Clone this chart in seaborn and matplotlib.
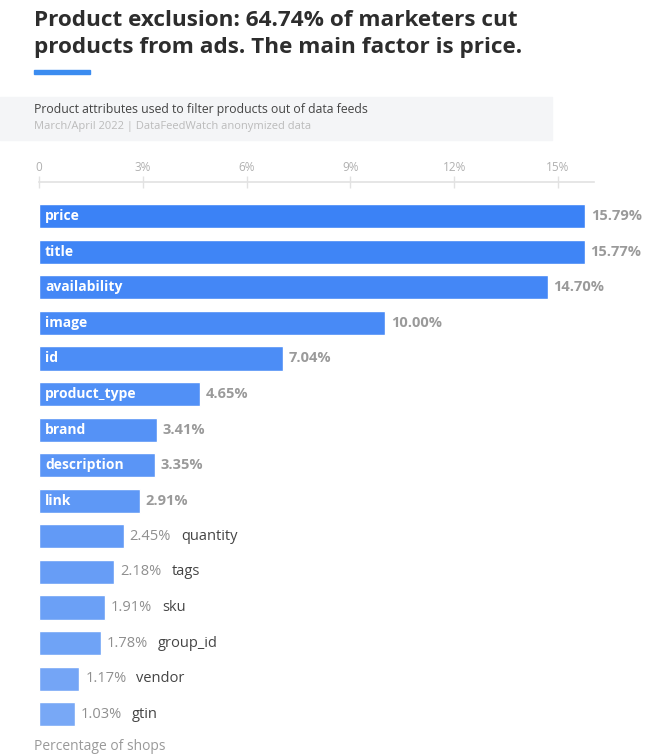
import pandas as pd
import matplotlib.pyplot as plt
import matplotlib.colors as mcolors
import numpy as np
import seaborn as sns

# Datos
attributes = ['price', 'title', 'availability', 'image', 'id', 'product_type', 'brand',
              'description', 'link', 'quantity', 'tags', 'sku', 'group_id', 'vendor', 'gtin']
shares = [15.79, 15.77, 14.70, 10.00, 7.04, 4.65, 3.41, 3.35, 2.91, 2.45, 2.18, 1.91, 1.78, 1.17, 1.03]
ticks = [0, 3, 6, 9, 12, 15]
tick_labels = ['0', '3%', '6%', '9%', '12%', '15%']

df = pd.DataFrame({'attribute': attributes, 'share': shares})

# Degradado de azul oscuro a azul claro
c_top = np.array(mcolors.to_rgb('#3b82f6'))
c_bot = np.array(mcolors.to_rgb('#78a8f6'))
colors = [tuple(c_top + (c_bot - c_top) * i / (len(df) - 1)) for i in range(len(df))]

sns.set_style('white')
plt.rcParams['font.family'] = ['Open Sans', 'DejaVu Sans']

fig = plt.figure(figsize=(6.47, 7.56), dpi=100)
ax = fig.add_axes([39 / 647, 1 - 732 / 756, 555 / 647, (732 - 182) / 756])

sns.barplot(
    data=df,
    x='share',
    y='attribute',
    hue='attribute',
    palette=colors,
    legend=False,
    width=0.68,
    saturation=1,
    ax=ax
)

ax.set_xlim(0, 16.04)
ax.set_ylim(14.5, -0.96)
ax.set_xlabel('')
ax.set_ylabel('')
ax.set_yticks([])

# Eje superior
ax.xaxis.tick_top()
ax.set_xticks(ticks)
ax.set_xticklabels(tick_labels)
ax.tick_params(axis='x', top=True, bottom=False, direction='inout', length=8,
               width=1, color='#e2e2e2', labelcolor='#b0b0b0', labelsize=8.5, pad=2)
for side in ['left', 'right', 'bottom']:
    ax.spines[side].set_visible(False)
ax.spines['top'].set_color('#e2e2e2')
ax.spines['top'].set_linewidth(1.2)

# Etiquetas
for i, row in df.iterrows():
    if row['share'] >= 2.8:
        ax.text(0.17, i, row['attribute'], color='white', fontsize=10, fontweight='bold',
                ha='left', va='center')
        ax.text(row['share'] + 0.17, i, f"{row['share']:.2f}%", color='#9a9a9a',
                fontsize=10.5, fontweight='bold', ha='left', va='center')
    else:
        val = ax.text(row['share'] + 0.17, i, f"{row['share']:.2f}%", color='#8f8f8f',
                      fontsize=10.5, ha='left', va='center')
        ax.annotate(row['attribute'], xy=(1, 0.5), xycoords=val, xytext=(7, 0),
                    textcoords='offset points', color='#444444', fontsize=10.5,
                    ha='left', va='center')

# Título y subtítulos
fig.text(34 / 647, 1 - 10 / 756,
         'Product exclusion: 64.74% of marketers cut\nproducts from ads. The main factor is price.',
         fontsize=16.2, fontweight='bold', color='#2d2d2d', ha='left', va='top', linespacing=1.35)
fig.patches.append(plt.Rectangle((34 / 647, 1 - 74 / 756), 56 / 647, 4 / 756,
                                 transform=fig.transFigure, color='#3b8cf0'))
fig.patches.append(plt.Rectangle((0, 1 - 140 / 756), 552 / 647, 43 / 756,
                                 transform=fig.transFigure, color='#f4f5f7', zorder=0))
fig.text(34 / 647, 1 - 110 / 756, 'Product attributes used to filter products out of data feeds',
         fontsize=8.8, color='#444444', ha='left', va='center')
fig.text(34 / 647, 1 - 127 / 756, 'March/April 2022 | DataFeedWatch anonymized data',
         fontsize=8, color='#bbbbbb', ha='left', va='center')
fig.text(34 / 647, 1 - 746 / 756, 'Percentage of shops', fontsize=10, color='#9a9a9a',
         ha='left', va='center')

fig.savefig('out.png', dpi=100)
